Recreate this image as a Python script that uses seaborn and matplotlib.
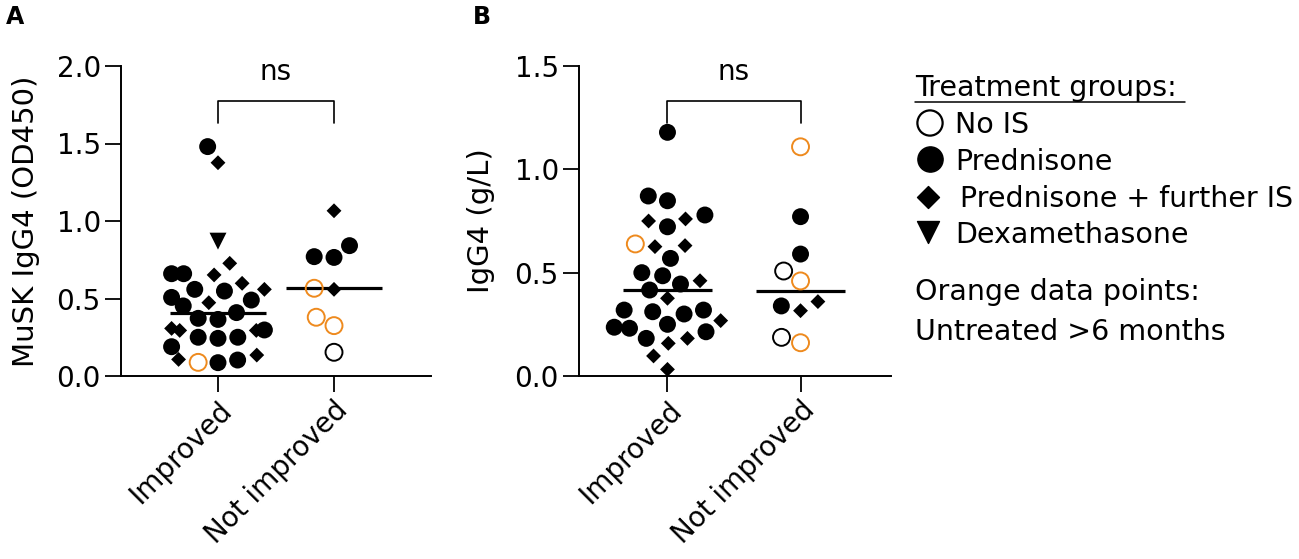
import numpy as np
import pandas as pd
import matplotlib
matplotlib.use("Agg")
import matplotlib.pyplot as plt
import matplotlib.transforms as mtransforms
from matplotlib.markers import MarkerStyle
import seaborn as sns

# ---- data ----
# group codes: P = prednisone, D = prednisone + further IS, X = dexamethasone, N = no IS
# orange flag = untreated > 6 months
categories = ['Improved', 'Not improved']

a_improved = [1.48, 1.376, 0.87, 0.727, 0.652, 0.66, 0.66, 0.598, 0.559, 0.559, 0.548,
              0.49, 0.507, 0.473, 0.452, 0.409, 0.372, 0.365, 0.297, 0.294, 0.307, 0.294,
              0.243, 0.25, 0.25, 0.189, 0.135, 0.103, 0.107, 0.086, 0.088]
a_improved_grp = ['P', 'D', 'X', 'D', 'D', 'P', 'P', 'D', 'D', 'P', 'P',
                  'P', 'P', 'D', 'P', 'P', 'P', 'P', 'P', 'D', 'D', 'D',
                  'P', 'P', 'P', 'P', 'D', 'P', 'D', 'P', 'N']
a_improved_orange = [0] * 30 + [1]

a_notimp = [1.066, 0.77, 0.765, 0.841, 0.566, 0.559, 0.325, 0.379, 0.153]
a_notimp_grp = ['D', 'P', 'P', 'P', 'N', 'D', 'N', 'N', 'N']
a_notimp_orange = [0, 0, 0, 0, 1, 0, 1, 1, 0]

b_improved = [1.179, 0.871, 0.848, 0.779, 0.75, 0.76, 0.722, 0.639, 0.631, 0.626, 0.569,
              0.5, 0.485, 0.461, 0.445, 0.416, 0.376, 0.311, 0.319, 0.3, 0.319, 0.268,
              0.25, 0.236, 0.214, 0.231, 0.182, 0.182, 0.158, 0.097, 0.032]
b_improved_grp = ['P', 'P', 'P', 'P', 'D', 'D', 'P', 'N', 'D', 'D', 'P',
                  'P', 'P', 'D', 'P', 'P', 'D', 'P', 'P', 'P', 'P', 'D',
                  'P', 'P', 'P', 'P', 'P', 'D', 'D', 'D', 'D']
b_improved_orange = [0] * 7 + [1] + [0] * 23

b_notimp = [1.109, 0.771, 0.59, 0.508, 0.46, 0.339, 0.36, 0.316, 0.187, 0.161]
b_notimp_grp = ['N', 'P', 'P', 'N', 'N', 'P', 'D', 'D', 'N', 'N']
b_notimp_orange = [1, 0, 0, 0, 1, 0, 0, 0, 0, 1]

a_ticks = [0.0, 0.5, 1.0, 1.5, 2.0]
b_ticks = [0.0, 0.5, 1.0, 1.5]

ORANGE = '#EE8A1E'


def make_df(imp, imp_grp, imp_or, nimp, nimp_grp, nimp_or):
    return pd.DataFrame({
        'cat': [categories[0]] * len(imp) + [categories[1]] * len(nimp),
        'val': imp + nimp,
        'grp': imp_grp + nimp_grp,
        'orange': imp_or + nimp_or,
    })


dfA = make_df(a_improved, a_improved_grp, a_improved_orange,
              a_notimp, a_notimp_grp, a_notimp_orange)
dfB = make_df(b_improved, b_improved_grp, b_improved_orange,
              b_notimp, b_notimp_grp, b_notimp_orange)


def marker_path(code):
    if code == 'D':
        m = MarkerStyle('D')
        return m.get_path().transformed(m.get_transform() + mtransforms.Affine2D().scale(0.62))
    if code == 'X':
        m = MarkerStyle('v')
        return m.get_path().transformed(m.get_transform())
    m = MarkerStyle('o')
    return m.get_path().transformed(m.get_transform())


sns.set_theme(style='ticks')
plt.rcParams['font.family'] = ['DejaVu Sans']
plt.rcParams['text.color'] = 'black'
plt.rcParams['axes.labelcolor'] = 'black'

fig = plt.figure(figsize=(12.99, 5.59), dpi=100)
W, H = 1299, 559
axA = fig.add_axes([121 / W, 1 - 376 / H, 310 / W, 310 / H])
axB = fig.add_axes([579 / W, 1 - 376 / H, 312 / W, 310 / H])


def draw_panel(ax, df, ylim, yticks, xlim, ylabel, labelpad, med_hw):
    sns.swarmplot(data=df, x='cat', y='val', order=categories, size=12.2,
                  color='black', ax=ax, zorder=3, warn_thresh=1)
    # restyle each point according to its treatment group
    for coll, cat in zip(ax.collections, categories):
        sub = df[df['cat'] == cat]
        paths, fcs, ecs = [], [], []
        for g, o in zip(sub['grp'], sub['orange']):
            paths.append(marker_path(g))
            if g == 'N':
                fcs.append('none')
                ecs.append(ORANGE if o else 'black')
            else:
                fcs.append('black')
                ecs.append('none')
        coll.set_paths(paths)
        coll.set_facecolor(fcs)
        coll.set_edgecolor(ecs)
        coll.set_linewidth(1.4)

    # median lines
    for i, cat in enumerate(categories):
        med = np.median(df.loc[df['cat'] == cat, 'val'])
        ax.hlines(med, i - med_hw, i + med_hw, color='black', lw=2.3, zorder=2)

    ax.set_xlim(*xlim)
    ax.set_ylim(*ylim)
    ax.set_yticks(yticks)
    ax.set_yticklabels([f'{t:.1f}' for t in yticks])
    ax.set_xlabel('')
    ax.set_ylabel(ylabel, fontsize=21, labelpad=labelpad, color='black')
    sns.despine(ax=ax)
    for s in ['left', 'bottom']:
        ax.spines[s].set_linewidth(1.4)
        ax.spines[s].set_color('black')
    ax.tick_params(length=11.5, width=1.3, labelsize=20, pad=3, colors='black')
    plt.setp(ax.get_xticklabels(), rotation=45, ha='right', rotation_mode='anchor')

    # significance bracket
    tr = mtransforms.blended_transform_factory(ax.transData, ax.transAxes)
    ax.plot([0, 0, 1, 1], [0.816, 0.887, 0.887, 0.816], color='black', lw=1.2,
            transform=tr, clip_on=False)
    ax.text(0.5, 0.982, 'ns', transform=tr, ha='center', va='center', fontsize=20)


draw_panel(axA, dfA, (0, 2.0), a_ticks, (-0.836, 1.836), 'MuSK IgG4 (OD450)', 12, 0.41)
draw_panel(axB, dfB, (0, 1.5), b_ticks, (-0.665, 1.68), 'IgG4 (g/L)', 14, 0.335)

# panel letters
fig.text(6 / W, 1 - 24 / H, 'A', fontsize=17, fontweight='bold', va='baseline')
fig.text(473 / W, 1 - 24 / H, 'B', fontsize=17, fontweight='bold', va='baseline')

# legend block drawn in figure pixel space
lax = fig.add_axes([0, 0, 1, 1], zorder=-1)
lax.set_xlim(0, W)
lax.set_ylim(H, 0)
lax.axis('off')
fs = 20.5
lax.text(915, 96, 'Treatment groups:', fontsize=fs, va='baseline')
lax.plot([915, 1185], [102, 102], color='black', lw=1.1)
lax.scatter([930], [123], s=330, marker='o', facecolors='none', edgecolors='black', linewidths=1.6)
lax.scatter([930], [159], s=330, marker='o', color='black')
lax.scatter([928], [197], s=125, marker='D', color='black')
lax.scatter([928], [232], s=250, marker='v', color='black')
lax.text(955, 133, 'No IS', fontsize=fs, va='baseline')
lax.text(955, 170, 'Prednisone', fontsize=fs, va='baseline')
lax.text(960, 207, 'Prednisone + further IS', fontsize=fs, va='baseline')
lax.text(955, 243, 'Dexamethasone', fontsize=fs, va='baseline')
lax.text(915, 300, 'Orange data points:', fontsize=fs, va='baseline')
lax.text(915, 340, 'Untreated >6 months', fontsize=fs, va='baseline')

fig.savefig('out.png', dpi=100)
